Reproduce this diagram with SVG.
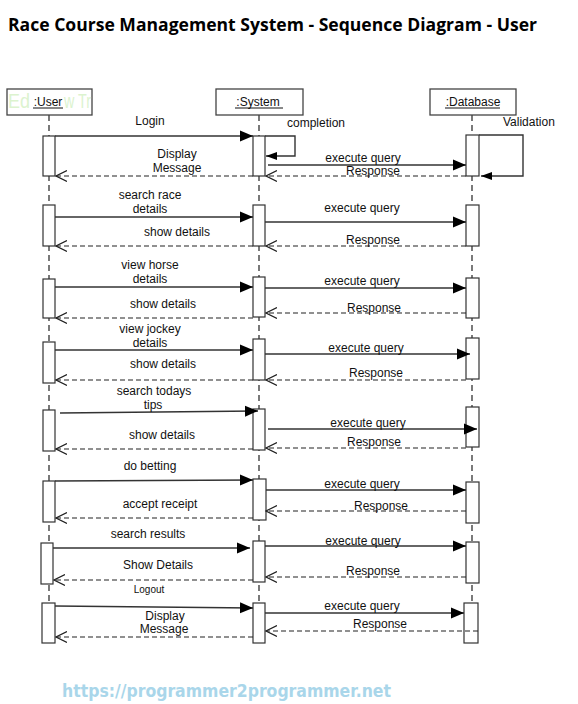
<svg xmlns="http://www.w3.org/2000/svg" width="578" height="704" viewBox="0 0 578 704">
<style>
text{font-family:"Liberation Sans",Arial,sans-serif;font-size:12px;fill:#111}
.title{font-family:"Open Sans","Liberation Sans",sans-serif;font-size:17px;font-weight:bold;fill:#000}
.lbl{text-anchor:middle}
.hdr{fill:#fff;stroke:#444;stroke-width:1.3}
.act{fill:#fff;stroke:#333;stroke-width:1.2}
.life{stroke:#222;stroke-width:1.2;stroke-dasharray:6,4;fill:none}
.msg{stroke:#333;stroke-width:1.4;fill:none;marker-end:url(#fill)}
.self{stroke:#333;stroke-width:1.4;fill:none;marker-end:url(#fillS)}
.ret{stroke:#222;stroke-width:1.2;stroke-dasharray:5,3;fill:none;marker-end:url(#open)}
.ul{stroke:#111;stroke-width:1}
.trial{font-size:20px;fill:#dcf3cf}
.wm{font-family:"DejaVu Sans","Open Sans",sans-serif;font-size:17px;font-weight:bold;fill:#a9d6ea}
</style>
<defs>
<marker id="fill" markerUnits="userSpaceOnUse" markerWidth="14" markerHeight="12" refX="13" refY="6" orient="auto"><path d="M0,0.5 L13,6 L0,11.5 z" fill="#000"/></marker>
<marker id="fillS" markerUnits="userSpaceOnUse" markerWidth="12" markerHeight="10" refX="11" refY="5" orient="auto"><path d="M0,1 L11,5 L0,9 z" fill="#000"/></marker>
<marker id="open" markerUnits="userSpaceOnUse" markerWidth="12" markerHeight="12" refX="11" refY="6" orient="auto"><path d="M0,0.5 L11,6 L0,11.5" fill="none" stroke="#222" stroke-width="1.2"/></marker>
</defs>
<rect width="578" height="704" fill="#fff"/>
<text class="title" x="8" y="31" textLength="529" lengthAdjust="spacingAndGlyphs">Race Course Management System - Sequence Diagram - User</text>

<g id="user">
<line class="life" x1="49" y1="115" x2="49" y2="603"/>
<rect class="hdr" x="7" y="89" width="85" height="26"/>
<text class="trial" x="8" y="108" textLength="22" lengthAdjust="spacingAndGlyphs">Ed</text>
<text class="trial" x="64" y="108" textLength="27" lengthAdjust="spacingAndGlyphs">w Tr</text>
<text class="lbl" x="48" y="106">:User</text>
<line class="ul" x1="33" y1="108" x2="63" y2="108"/>
<rect class="act" x="43" y="136" width="12" height="40"/>
<rect class="act" x="43" y="205" width="12" height="41"/>
<rect class="act" x="43" y="279" width="12" height="39"/>
<rect class="act" x="43" y="342" width="12" height="41"/>
<rect class="act" x="43" y="410" width="12" height="41"/>
<rect class="act" x="43" y="481" width="12" height="41"/>
<rect class="act" x="41" y="543" width="12" height="41"/>
<rect class="act" x="42" y="603" width="13" height="40"/>
</g>

<g id="system">
<line class="life" x1="259" y1="115" x2="259" y2="603"/>
<rect class="hdr" x="216" y="89" width="87" height="26"/>
<text class="lbl" x="258" y="106">:System</text>
<line class="ul" x1="235" y1="108" x2="283" y2="108"/>
<rect class="act" x="253" y="136" width="12" height="40"/>
<rect class="act" x="253" y="205" width="12" height="41"/>
<rect class="act" x="253" y="277" width="12" height="40"/>
<rect class="act" x="253" y="339" width="12" height="41"/>
<rect class="act" x="253" y="409" width="12" height="41"/>
<rect class="act" x="253" y="479" width="13" height="41"/>
<rect class="act" x="253" y="541" width="12" height="41"/>
<rect class="act" x="253" y="603" width="12" height="40"/>
</g>

<g id="database">
<line class="life" x1="472" y1="115" x2="472" y2="603"/>
<rect class="hdr" x="430" y="89" width="86" height="26"/>
<text class="lbl" x="473" y="106">:Database</text>
<line class="ul" x1="445" y1="108" x2="500" y2="108"/>
<rect class="act" x="466" y="135" width="13" height="41"/>
<rect class="act" x="466" y="205" width="13" height="41"/>
<rect class="act" x="466" y="278" width="13" height="40"/>
<rect class="act" x="466" y="338" width="13" height="41"/>
<rect class="act" x="466" y="407" width="13" height="40"/>
<rect class="act" x="466" y="482" width="13" height="41"/>
<rect class="act" x="466" y="542" width="13" height="41"/>
<rect class="act" x="464" y="603" width="14" height="40"/>
</g>

<g id="connectors">
<line class="msg" x1="55" y1="136" x2="253" y2="136"/>
<path class="self" d="M265,136 H295 V156 H266"/>
<line class="msg" x1="268" y1="165" x2="466" y2="165"/>
<path class="self" d="M479,135 H523 V176 H481"/>
<line class="ret" x1="466" y1="176" x2="266" y2="176"/>
<line class="ret" x1="253" y1="176" x2="56" y2="176"/>
<line class="msg" x1="55" y1="217" x2="253" y2="217"/>
<line class="msg" x1="265" y1="222" x2="466" y2="222"/>
<line class="ret" x1="466" y1="246" x2="266" y2="246"/>
<line class="ret" x1="253" y1="246" x2="56" y2="246"/>
<line class="msg" x1="55" y1="287" x2="253" y2="287"/>
<line class="msg" x1="265" y1="288" x2="466" y2="288"/>
<line class="ret" x1="466" y1="313" x2="266" y2="313"/>
<line class="ret" x1="253" y1="318" x2="56" y2="318"/>
<line class="msg" x1="55" y1="350" x2="253" y2="350"/>
<line class="msg" x1="265" y1="354" x2="470" y2="354"/>
<line class="ret" x1="466" y1="380" x2="266" y2="380"/>
<line class="ret" x1="253" y1="380" x2="56" y2="380"/>
<line class="msg" x1="60" y1="413" x2="258" y2="411"/>
<line class="msg" x1="268" y1="429" x2="477" y2="429"/>
<line class="ret" x1="466" y1="448" x2="266" y2="448"/>
<line class="ret" x1="253" y1="449" x2="56" y2="449"/>
<line class="msg" x1="55" y1="481" x2="253" y2="480"/>
<line class="msg" x1="266" y1="490" x2="466" y2="490"/>
<line class="ret" x1="466" y1="511" x2="266" y2="511"/>
<line class="ret" x1="253" y1="518" x2="56" y2="518"/>
<line class="msg" x1="53" y1="548" x2="250" y2="548"/>
<line class="msg" x1="265" y1="546" x2="466" y2="546"/>
<line class="ret" x1="466" y1="577" x2="266" y2="577"/>
<line class="ret" x1="253" y1="580" x2="54" y2="580"/>
<line class="msg" x1="55" y1="606" x2="253" y2="608"/>
<line class="msg" x1="265" y1="613" x2="464" y2="613"/>
<line class="ret" x1="478" y1="631" x2="266" y2="631"/>
<line class="ret" x1="253" y1="637" x2="56" y2="637"/>
</g>

<g id="labels">
<text class="lbl" x="150" y="125">Login</text>
<text x="287" y="127">completion</text>
<text x="503" y="126">Validation</text>
<text class="lbl" x="363" y="162">execute query</text>
<text class="lbl" x="373" y="175">Response</text>
<text class="lbl" x="177" y="158">Display</text>
<text class="lbl" x="177" y="172">Message</text>
<text class="lbl" x="150" y="199">search race</text>
<text class="lbl" x="150" y="213">details</text>
<text class="lbl" x="177" y="236">show details</text>
<text class="lbl" x="362" y="212">execute query</text>
<text class="lbl" x="373" y="244">Response</text>
<text class="lbl" x="150" y="269">view horse</text>
<text class="lbl" x="150" y="283">details</text>
<text class="lbl" x="163" y="308">show details</text>
<text class="lbl" x="362" y="285">execute query</text>
<text class="lbl" x="374" y="312">Response</text>
<text class="lbl" x="150" y="333">view jockey</text>
<text class="lbl" x="150" y="347">details</text>
<text class="lbl" x="163" y="368">show details</text>
<text class="lbl" x="366" y="352">execute query</text>
<text class="lbl" x="376" y="377">Response</text>
<text class="lbl" x="154" y="395">search todays</text>
<text class="lbl" x="153" y="409">tips</text>
<text class="lbl" x="162" y="439">show details</text>
<text class="lbl" x="368" y="427">execute query</text>
<text class="lbl" x="374" y="446">Response</text>
<text class="lbl" x="150" y="470">do betting</text>
<text class="lbl" x="160" y="508">accept receipt</text>
<text class="lbl" x="362" y="488">execute query</text>
<text class="lbl" x="381" y="510">Response</text>
<text class="lbl" x="148" y="538">search results</text>
<text class="lbl" x="158" y="569">Show Details</text>
<text class="lbl" x="363" y="545">execute query</text>
<text class="lbl" x="373" y="575">Response</text>
<text class="lbl" x="149" y="593" style="font-size:10px">Logout</text>
<text class="lbl" x="165" y="620">Display</text>
<text class="lbl" x="164" y="633">Message</text>
<text class="lbl" x="362" y="610">execute query</text>
<text class="lbl" x="380" y="628">Response</text>
</g>

<text class="wm" x="62" y="697" textLength="329" lengthAdjust="spacingAndGlyphs">https://programmer2programmer.net</text>
</svg>
